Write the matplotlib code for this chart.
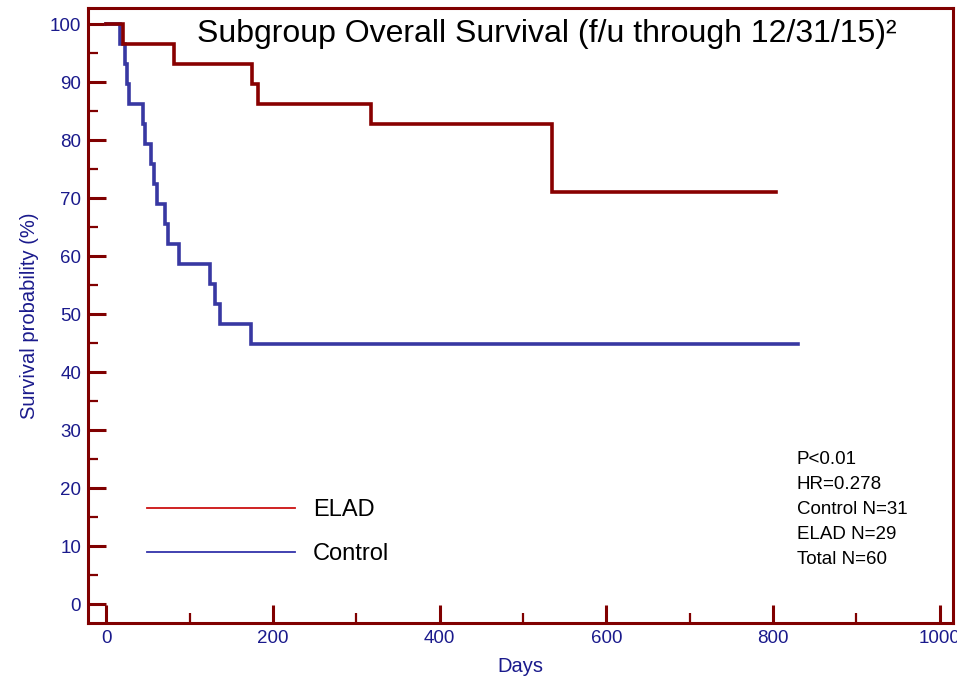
import matplotlib
matplotlib.use("Agg")
import matplotlib.pyplot as plt
from matplotlib.lines import Line2D
from matplotlib.ticker import MultipleLocator

plt.rcParams['font.family'] = ['Liberation Sans', 'DejaVu Sans']

# Kaplan-Meier curves (days, survival %)
control_days = [0, 16, 22, 25, 27, 44, 46, 54, 57, 61, 70, 74, 87, 124, 130, 136, 174, 830]
control_surv = [100, 96.55, 93.10, 89.66, 86.21, 82.76, 79.31, 75.86, 72.41, 68.97,
                65.52, 62.07, 58.62, 55.17, 51.72, 48.28, 44.83, 44.83]
elad_days = [0, 20, 81, 175, 182, 318, 535, 803]
elad_surv = [100, 96.55, 93.10, 89.66, 86.21, 82.76, 71.0, 71.0]

x_ticks = [0, 200, 400, 600, 800, 1000]
y_ticks = [0, 10, 20, 30, 40, 50, 60, 70, 80, 90, 100]
stats = ["P<0.01", "HR=0.278", "Control N=31", "ELAD N=29", "Total N=60"]

frame_red = '#800000'
elad_red = '#880000'
ctrl_blue = '#3838a2'
label_blue = '#1a1a8c'

fig = plt.figure(figsize=(9.57, 6.76), dpi=100)
ax = fig.add_axes([0.092, 0.078, 0.904, 0.910])

ax.step(control_days, control_surv, where='post', color=ctrl_blue, lw=2.6, solid_joinstyle='miter')
ax.step(elad_days, elad_surv, where='post', color=elad_red, lw=2.6, solid_joinstyle='miter')

ax.set_xlim(-22, 1016)
ax.set_ylim(-3.3, 102.8)
ax.set_xticks(x_ticks)
ax.set_yticks(y_ticks)
ax.xaxis.set_minor_locator(MultipleLocator(100))
ax.yaxis.set_minor_locator(MultipleLocator(5))

for sp in ax.spines.values():
    sp.set_color(frame_red)
    sp.set_linewidth(2.2)

ax.tick_params(which='major', direction='in', length=13, width=2.2, color=frame_red,
               labelcolor=label_blue, labelsize=13.5, pad=5)
ax.tick_params(which='minor', direction='in', length=7, width=1.6, color=frame_red)
ax.tick_params(axis='y', which='both', pad=5)

ax.set_xlabel("Days", color=label_blue, fontsize=14.5, labelpad=7)
ax.set_ylabel("Survival probability (%)", color=label_blue, fontsize=14.5, labelpad=8)

ax.text(0.53, 0.958, "Subgroup Overall Survival (f/u through 12/31/15)²",
        transform=ax.transAxes, ha='center', va='center', fontsize=23, color='black')

handles = [Line2D([], [], color='#cc1111', lw=1.3),
           Line2D([], [], color='#3333aa', lw=1.3)]
ax.legend(handles, ["ELAD", "Control"], loc='upper left', bbox_to_anchor=(0.057, 0.217),
          borderaxespad=0, frameon=False, fontsize=17, handlelength=6.27,
          handletextpad=0.76, labelspacing=0.92)

ax.text(0.819, 0.28, "\n".join(stats), transform=ax.transAxes, ha='left', va='top',
        fontsize=13.5, color='black', linespacing=1.62)

fig.savefig("out.png", dpi=100)
